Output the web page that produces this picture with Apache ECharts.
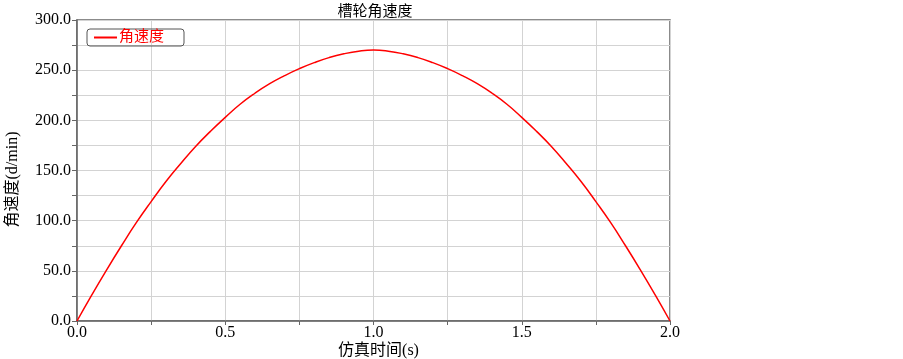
<!DOCTYPE html>
<html>
<head>
<meta charset="utf-8">
<script src="https://cdn.jsdelivr.net/npm/echarts@6/dist/echarts.min.js"></script>
<style>html,body{margin:0;padding:0;background:#fff}#c{width:903px;height:359px}</style>
</head>
<body>
<div id="c"></div>
<script>
var titleText = '槽轮角速度';
var seriesName = '角速度';
var xName = '仿真时间(s)';
var yName = '角速度(d/min)';
var times = [0,0.05,0.1,0.15,0.2,0.25,0.3,0.35,0.4,0.45,0.5,0.55,0.6,0.65,0.7,0.75,0.8,0.85,0.9,0.95,1.0,
  1.05,1.1,1.15,1.2,1.25,1.3,1.35,1.4,1.45,1.5,1.55,1.6,1.65,1.7,1.75,1.8,1.85,1.9,1.95,2.0];
var omega = [0,26,51,75,98,119,139,157,174,189,203,216,227,236.5,244.5,251.5,257.5,262.5,266.3,268.9,270,
  268.9,266.3,262.5,257.5,251.5,244.5,236.5,227,216,203,189,174,157,139,119,98,75,51,26,0];

var chart = echarts.init(document.getElementById('c'));
var serif = '"Liberation Serif","Times New Roman",serif';
var cjk = '"Liberation Serif","Noto Sans CJK SC",serif';
chart.setOption({
  animation: false,
  backgroundColor: '#fff',
  title: {
    text: titleText, left: 370, top: 0, textAlign: 'center',
    textStyle: {fontFamily: cjk, fontSize: 15, fontWeight: 'normal', color: '#000'}
  },
  legend: {
    left: 87, top: 29, orient: 'vertical',
    borderColor: '#555', borderWidth: 1, borderRadius: 3,
    padding: [1, 20, 1, 7],
    itemWidth: 23, itemHeight: 2, itemGap: 0,
    textStyle: {fontFamily: cjk, fontSize: 15, color: '#ff0000', padding: [0,0,0,-3]},
    data: [{name: seriesName, icon: 'rect'}]
  },
  grid: {left: 77, right: 233, top: 20, bottom: 38, show: true, borderColor: '#666', borderWidth: 1.5, outerBoundsMode: 'none', containLabel: false},
  xAxis: {
    type: 'value', min: 0, max: 2, interval: 0.5,
    name: xName, nameLocation: 'middle', nameGap: 22, nameMoveOverlap: false,
    nameTextStyle: {fontFamily: cjk, fontSize: 16, color: '#000', padding: [0,0,0,10], verticalAlign: 'top'},
    axisLine: {show: true, lineStyle: {color: '#666', width: 1.5}},
    axisTick: {show: true, inside: false, length: 4, lineStyle: {color: '#666'}},
    minorTick: {show: true, splitNumber: 2, length: 4, lineStyle: {color: '#666'}},
    axisLabel: {fontFamily: serif, fontSize: 16, color: '#000', margin: 4, formatter: function(v){return v.toFixed(1);}},
    splitLine: {show: true, lineStyle: {color: '#d3d3d3', width: 1}},
    minorSplitLine: {show: true, lineStyle: {color: '#d3d3d3', width: 1}}
  },
  yAxis: {
    type: 'value', min: 0, max: 300, interval: 50,
    name: yName, nameLocation: 'middle', nameGap: 56, nameRotate: 90,
    nameTextStyle: {fontFamily: cjk, fontSize: 16, color: '#000', padding: [0,0,0,-18]},
    axisLine: {show: true, lineStyle: {color: '#666', width: 1.5}},
    axisTick: {show: true, inside: false, length: 5, lineStyle: {color: '#666'}},
    minorTick: {show: true, splitNumber: 2, length: 5, lineStyle: {color: '#666'}},
    axisLabel: {fontFamily: serif, fontSize: 16, color: '#000', margin: 6, formatter: function(v){return v.toFixed(1);}},
    splitLine: {show: true, lineStyle: {color: '#d3d3d3', width: 1}},
    minorSplitLine: {show: true, lineStyle: {color: '#d3d3d3', width: 1}}
  },
  series: [{
    name: seriesName, type: 'line', smooth: true, showSymbol: false,
    lineStyle: {color: '#ff0000', width: 1.5}, itemStyle: {color: '#ff0000'},
    data: times.map(function(t, i){return [t, omega[i]];})
  }]
});
</script>
</body>
</html>
